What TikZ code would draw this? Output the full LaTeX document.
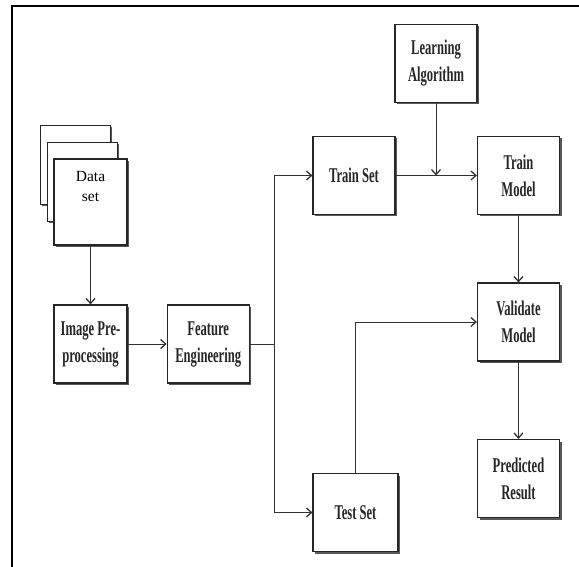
\documentclass[tikz,border=0pt]{standalone}
\usepackage{fontspec}
\setmainfont{Liberation Serif}
\newfontfamily\boxfont[FakeStretch=0.6]{Liberation Serif Bold}
\usetikzlibrary{arrows.meta, positioning, shadows}
\tikzstyle{arrow} = [line width=1pt, draw=black!80, -{Straight Barb[length=5pt,width=9pt,line width=1.3pt]}]

\begin{document}
\begin{tikzpicture}[
  x=1pt, y=-1pt,
  shade/.style={drop shadow={shadow xshift=2pt, shadow yshift=-2pt, fill=black!65, opacity=1}},
  box/.style={draw=black!85, line width=1.2pt, fill=white, shade, minimum width=82pt, minimum height=78pt,
    align=center, inner sep=2pt, text=black!85, font=\boxfont\fontsize{21}{27}\selectfont},
  sheet/.style={draw=black!85, line width=0.9pt, fill=white, shade, minimum width=70pt, minimum height=79pt}
]
\useasboundingbox (0,0) rectangle (579,567);

% Outer frame
\draw[line width=2.4pt] (12,567) -- (12,6) -- (579,6);

% Data set stack
\node[sheet] (sheetA) at (75,164.5) {};
\node[sheet] (sheetB) at (82,181.5) {};
\node[sheet, line width=1.8pt, minimum width=73pt, minimum height=86pt,
  label={[anchor=north, align=center, yshift=-10pt, font=\fontsize{15.5}{20}\selectfont]north:Data\\set}] (data) at (90.5,202) {};

% Preprocessing chain
\node[box, minimum width=73pt] (imgpre) at (90.5,344) {Image Pre-\\processing};
\node[box, right=39pt of imgpre] (feat) {Feature\\Engineering};

% Split sets
\node[box] (train) at (354,175.5) {Train Set};
\node[box, minimum width=85pt] (test) at (355.5,512.5) {Test Set};

% Model side
\node[box] (learn) at (436,63.5) {Learning\\Algorithm};
\node[box] (tmodel) at (518.5,175.5) {Train\\Model};
\node[box] (valid) at (518.5,322) {Validate\\Model};
\node[box] (predict) at (518.5,478.5) {Predicted\\Result};

% Connectors
\coordinate (split) at (274,344);
\coordinate (join) at (learn |- train);
\draw[arrow] (data) -- (imgpre);
\draw[arrow] (imgpre) -- (feat);
\draw[line width=1pt, draw=black!80] (feat) -- (split);
\draw[arrow] (split) |- (train);
\draw[arrow] (split) |- (test);
\draw[arrow] (train) -- (tmodel);
\draw[arrow] (learn) -- (join);
\draw[arrow] (tmodel) -- (valid);
\draw[arrow] (test) |- (valid);
\draw[arrow] (valid) -- (predict);

\end{tikzpicture}
\end{document}
